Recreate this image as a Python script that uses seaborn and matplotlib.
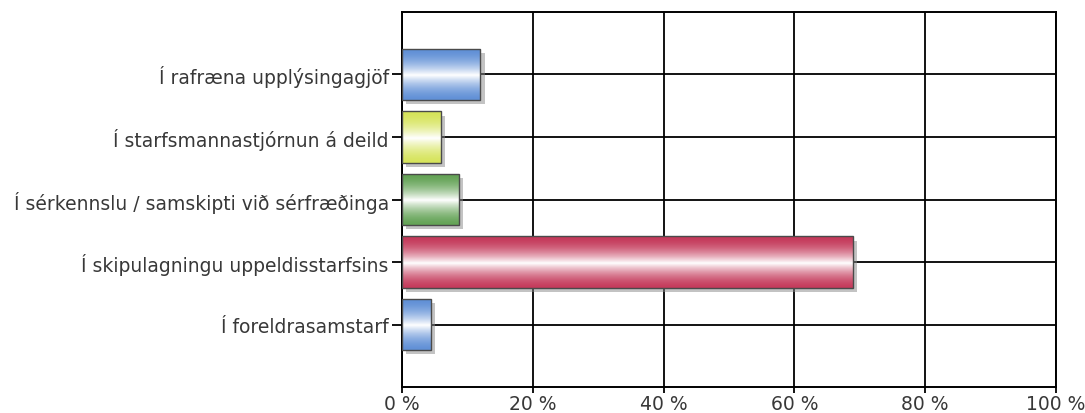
import numpy as np
import pandas as pd
import seaborn as sns
import matplotlib.pyplot as plt
import matplotlib.transforms as mtransforms
from matplotlib.patches import Rectangle
from matplotlib.colors import to_rgb

# gögn
categories = ["Í rafræna upplýsingagjöf",
              "Í starfsmannastjórnun á deild",
              "Í sérkennslu / samskipti við sérfræðinga",
              "Í skipulagningu uppeldisstarfsins",
              "Í foreldrasamstarf"]
values = [12.0, 6.0, 8.7, 68.9, 4.4]
bar_colors = ["#5f8fd6", "#d6e45a", "#62a254", "#c4395a", "#5f8fd6"]
x_ticks = [0, 20, 40, 60, 80, 100]
x_labels = [f"{t} %" for t in x_ticks]

df = pd.DataFrame({"cat": categories, "val": values})

sns.set_style("white")
plt.rcParams["font.family"] = ["DejaVu Sans"]

fig = plt.figure(figsize=(10.85, 4.14), dpi=100)
ax = fig.add_axes([0.3705, 0.0628, 0.9733 - 0.3705, 0.9686 - 0.0628])

sns.barplot(data=df, x="val", y="cat", hue="cat", palette=bar_colors, legend=False,
            orient="h", width=0.82, ax=ax)

ax.set_xlim(0, 100)
ax.set_ylim(5, -1)
ax.set_xticks(x_ticks)
ax.set_xticklabels(x_labels)
ax.set_xlabel("")
ax.set_ylabel("")

# rist
ax.set_axisbelow(True)
ax.grid(True, color="black", linewidth=1.3)
for s in ax.spines.values():
    s.set_color("black")
    s.set_linewidth(1.4)
ax.tick_params(axis="both", width=1.3, color="black", labelsize=13.5,
               labelcolor="#383838", direction="out")
ax.tick_params(axis="x", bottom=True, length=4.5, pad=0.5)
ax.tick_params(axis="y", left=True, length=7.5, pad=2)

# glansandi súlur
for patch, col in zip(ax.patches, bar_colors):
    x0, y0 = patch.get_x(), patch.get_y()
    w, h = patch.get_width(), patch.get_height()
    base = np.array(to_rgb(col))
    t = np.linspace(0, 1, 64)
    # hvítt nálægt miðju, dekkra við brúnir
    k = np.clip(1 - np.abs(t - 0.52) / 0.52, 0, 1) ** 1.8
    grad = base[None, :] * (1 - k[:, None]) + np.ones(3)[None, :] * k[:, None]
    img = np.repeat(grad[:, None, :], 2, axis=1)
    patch.set_facecolor("none")
    patch.set_edgecolor("#4a4a4a")
    patch.set_linewidth(1.0)
    patch.set_zorder(3)
    im = ax.imshow(img, extent=[x0, x0 + w, y0 + h, y0], aspect="auto",
                   interpolation="bilinear", zorder=2.5)
    im.set_clip_path(patch)
    shadow = Rectangle((x0, y0), w, h, facecolor="#888888", alpha=0.5, edgecolor="none",
                       transform=ax.transData + mtransforms.ScaledTranslation(3 / 72, -3 / 72, fig.dpi_scale_trans),
                       zorder=2.2)
    ax.add_patch(shadow)

ax.set_xlim(0, 100)
ax.set_ylim(5, -1)

fig.savefig("out.png", dpi=100)
